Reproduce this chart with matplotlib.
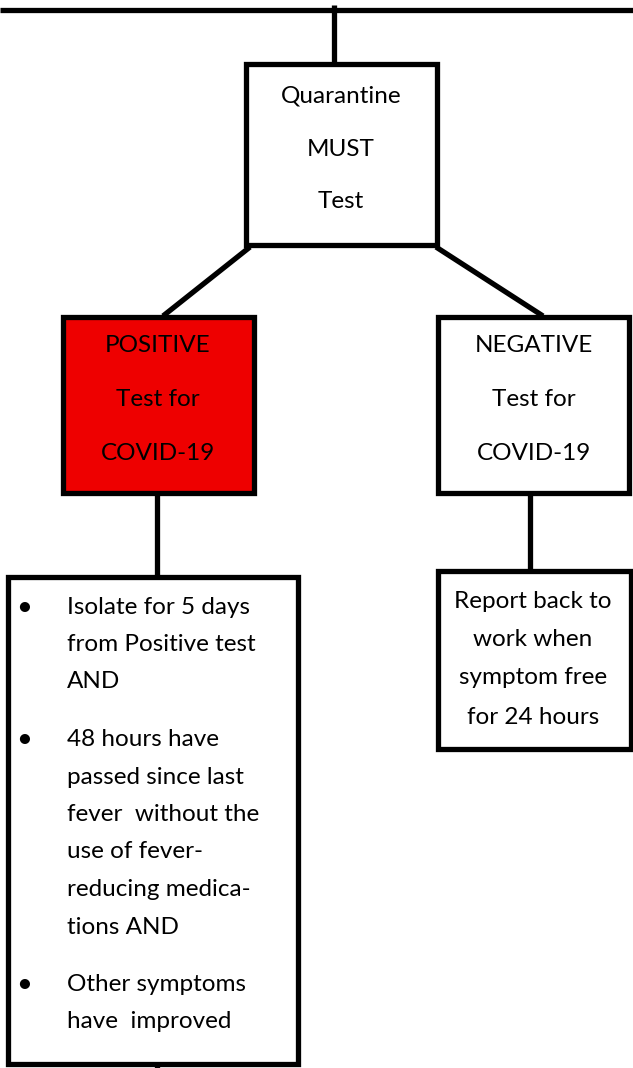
import matplotlib
matplotlib.use("Agg")
import matplotlib.pyplot as plt
from matplotlib.patches import Rectangle

plt.rcParams['font.family'] = ['Lato', 'DejaVu Sans']

# flowchart text
top_lines = ["Quarantine", "MUST", "Test"]
pos_lines = ["POSITIVE", "Test for", "COVID-19"]
neg_lines = ["NEGATIVE", "Test for", "COVID-19"]
report_lines = ["Report back to", "work when", "symptom free", "for 24 hours"]
bullets = [
    ["Isolate for 5 days", "from Positive test", "AND"],
    ["48 hours have", "passed since last", "fever  without the", "use of fever-",
     "reducing medica-", "tions AND"],
    ["Other symptoms", "have  improved"],
]

W, H = 633, 1068
fig = plt.figure(figsize=(W / 100, H / 100), dpi=100)
ax = fig.add_axes([0, 0, 1, 1])
ax.set_xlim(0, W)
ax.set_ylim(H, 0)
ax.axis('off')

LW = 3.8
FS = 17.5


def box(x0, y0, x1, y1, fc='white'):
    ax.add_patch(Rectangle((x0, y0), x1 - x0, y1 - y0, facecolor=fc,
                           edgecolor='black', lw=LW, zorder=2))


def line(xs, ys):
    ax.plot(xs, ys, color='black', lw=LW, solid_capstyle='butt', zorder=1)


def centered(lines, cx, ys):
    for t, y in zip(lines, ys):
        ax.text(cx, y, t, ha='center', va='center', fontsize=FS, zorder=3)


# connectors
line([0, W], [10, 10])
line([334, 334], [5, 62])
line([250, 163], [247, 316])
line([436, 543], [247, 316])
line([157, 157], [494, 576])
line([530, 530], [494, 570])
line([157, 157], [1060, 1068])

# boxes
box(246, 64, 437, 245)
centered(top_lines, 341, [96, 149, 202])

box(63, 317, 254, 493, fc='#ee0000')
centered(pos_lines, 158, [346, 400, 454])

box(438, 317, 629, 493)
centered(neg_lines, 534, [346, 400, 454])

box(438, 571, 631, 749)
centered(report_lines, 533, [601, 640, 678, 717])

box(8, 577, 298, 1064)
y = 607
for group in bullets:
    ax.text(24, y, u"\u2022", ha='center', va='center', fontsize=FS + 2, zorder=3)
    for t in group:
        ax.text(67, y, t, ha='left', va='center', fontsize=FS, zorder=3)
        y += 37.5
    y += 20

fig.savefig("out.png", dpi=100)
